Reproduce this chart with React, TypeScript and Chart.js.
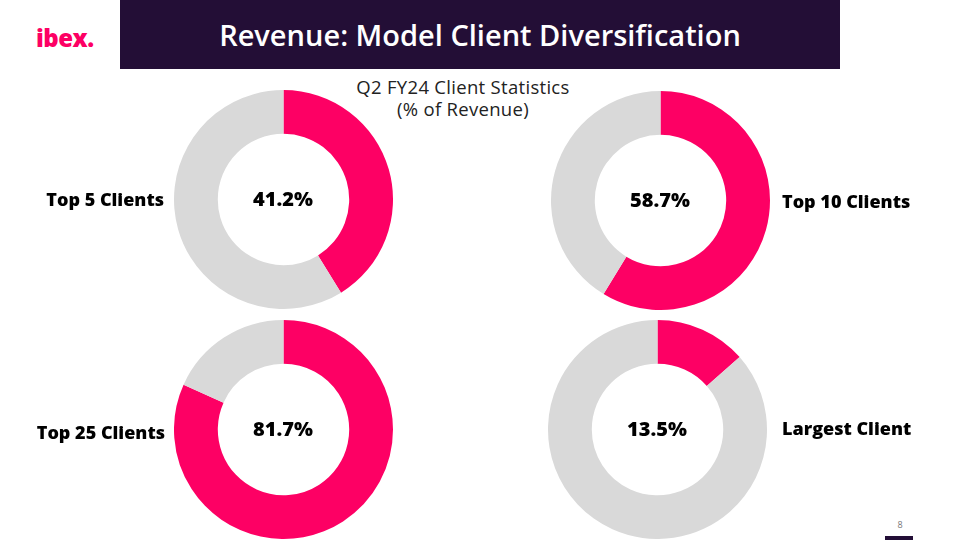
import React, { useEffect, useRef } from "react";
import { Chart, registerables } from "chart.js";

Chart.register(...registerables);

const categories = ["Top 5 Clients", "Top 10 Clients", "Top 25 Clients", "Largest Client"];
const shares = [41.2, 58.7, 81.7, 13.5];
const centerLabels = ["41.2%", "58.7%", "81.7%", "13.5%"];
const sliceNames = ["Clients", "Rest of revenue"];

const PINK = "#FD0064";
const GRAY = "#D9D9D9";
const DARK = "#230E36";
const FONT = "'Open Sans', 'Noto Sans', sans-serif";

type Layout = { cx: number; cy: number; labelX: number; labelY: number; side: "left" | "right" };
const layouts: Layout[] = [
  { cx: 283, cy: 199, labelX: 164, labelY: 199, side: "left" },
  { cx: 660, cy: 200, labelX: 782, labelY: 201, side: "right" },
  { cx: 283, cy: 429, labelX: 165, labelY: 432, side: "left" },
  { cx: 657, cy: 429, labelX: 782, labelY: 428, side: "right" },
];
const SIZE = 219;

function Donut({ value }: { value: number }) {
  const ref = useRef<HTMLCanvasElement | null>(null);
  useEffect(() => {
    if (!ref.current) return;
    const chart = new Chart(ref.current, {
      type: "doughnut",
      data: {
        labels: sliceNames,
        datasets: [
          {
            data: [value, +(100 - value).toFixed(1)],
            backgroundColor: [PINK, GRAY],
            borderWidth: 0,
            hoverOffset: 0,
          },
        ],
      },
      options: {
        responsive: false,
        animation: false,
        cutout: "60%",
        layout: { padding: 0 },
        plugins: { legend: { display: false }, tooltip: { enabled: false } },
      },
    });
    return () => chart.destroy();
  }, [value]);
  return <canvas ref={ref} width={SIZE} height={SIZE} style={{ width: SIZE, height: SIZE, display: "block" }} />;
}

export default function App() {
  useEffect(() => {
    document.body.style.margin = "0";
  }, []);
  return (
    <div style={{ position: "absolute", left: 0, top: 0, width: 960, height: 540, background: "#fff", overflow: "hidden", fontFamily: FONT }}>
      <div style={{ position: "absolute", left: 36, top: 22, fontSize: 24, fontWeight: 800, color: PINK, letterSpacing: -0.5, lineHeight: "32px" }}>ibex.</div>
      <div style={{ position: "absolute", left: 120, top: 0, width: 720, height: 69, background: DARK, color: "#fff", display: "flex", alignItems: "center", justifyContent: "center", fontSize: 29, fontWeight: 600 }}>
        Revenue: Model Client Diversification
      </div>
      <div style={{ position: "absolute", left: 313, top: 76, width: 300, textAlign: "center", fontSize: 18.5, lineHeight: "22px", color: "#222", letterSpacing: 0.3 }}>
        Q2 FY24 Client Statistics
        <br />
        (% of Revenue)
      </div>
      {layouts.map((l, i) => (
        <React.Fragment key={i}>
          <div style={{ position: "absolute", left: l.cx - SIZE / 2, top: l.cy - SIZE / 2 }}>
            <Donut value={shares[i]} />
          </div>
          <div style={{ position: "absolute", left: l.cx - 60, top: l.cy - 14, width: 120, textAlign: "center", fontSize: 20, fontWeight: 800, color: "#000", lineHeight: "28px" }}>
            {centerLabels[i]}
          </div>
          <div
            style={{
              position: "absolute",
              top: l.labelY - 12,
              lineHeight: "24px",
              fontSize: 18,
              fontWeight: 800,
              color: "#000",
              whiteSpace: "nowrap",
              ...(l.side === "left" ? { right: 960 - l.labelX, textAlign: "right" as const } : { left: l.labelX }),
            }}
          >
            {categories[i]}
          </div>
        </React.Fragment>
      ))}
      <div style={{ position: "absolute", left: 890, top: 518, width: 20, textAlign: "center", fontSize: 9, color: "#777" }}>8</div>
      <div style={{ position: "absolute", left: 885, top: 536, width: 28, height: 4, background: DARK }} />
    </div>
  );
}
